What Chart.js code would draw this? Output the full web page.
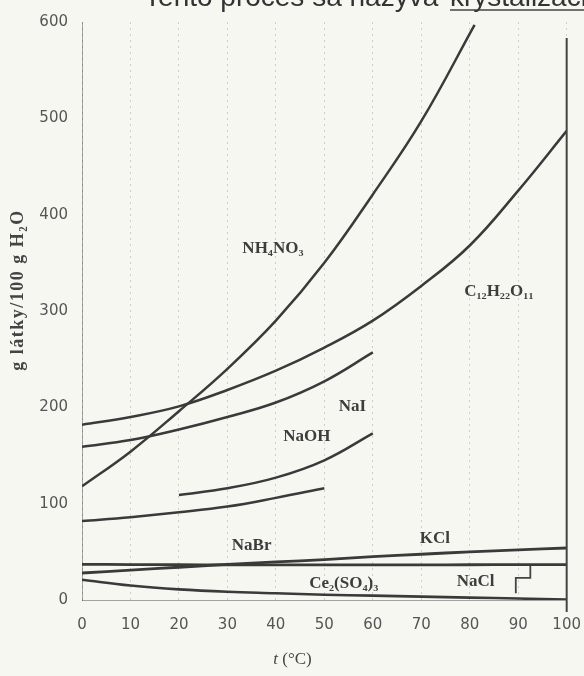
<!DOCTYPE html>
<html>
<head>
<meta charset="utf-8">
<script src="https://cdn.jsdelivr.net/npm/chart.js@4/dist/chart.umd.min.js"></script>
<style>
  html, body { margin: 0; padding: 0; background: #f7f7f2; }
  #wrap { width: 584px; height: 676px; }
</style>
</head>
<body>
<div id="wrap"><canvas id="rozpustnost" width="584" height="676"></canvas></div>
<script>
// teploty (°C) pre jednotlivé krivky
const tempsFull = [0, 10, 20, 30, 40, 50, 60, 70, 80, 90, 100];
const tempsNH4NO3 = [0, 10, 20, 30, 40, 50, 60, 70, 81];
const tempsNaI = [0, 10, 20, 30, 40, 50, 60];
const tempsNaOH = [20, 30, 40, 50, 60];
const tempsNaBr = [0, 10, 20, 30, 40, 50];

// rozpustnosť v g látky / 100 g H2O (odčítané z grafu)
const nh4no3 = [118, 154, 196, 240, 290, 350, 421, 497, 597];
const sacharoza = [182, 190, 201, 218, 238, 262, 290, 326, 368, 425, 487];
const nai = [159, 166, 177, 190, 205, 227, 257];
const naoh = [109, 116, 127, 145, 173];
const nabr = [82, 86, 91, 97, 106, 116];
const kcl = [28, 31, 34, 37, 39.5, 42, 45, 47.5, 50, 52, 54];
const nacl = [37, 36.8, 36.6, 36.5, 36.4, 36.4, 36.5, 36.5, 36.6, 36.7, 36.8];
const ce2so43 = [21, 15, 11, 8.5, 7, 5.5, 4.5, 3.5, 2.5, 1.5, 0.5];

// popisy kriviek: [text, teplota, hodnota]
const curveLabels = [
    ['NH₄NO₃', 39.4, 365],
    ['C₁₂H₂₂O₁₁', 86, 320],
    ['NaI', 55.8, 201],
    ['NaOH', 46.4, 170],
    ['NaBr', 35, 56],
    ['KCl', 72.8, 64],
    ['Ce₂(SO₄)₃', 54, 17],
    ['NaCl', 81.2, 19.5]
];
// malá spojnica pri NaCl
const naclLeaderT = [89.5, 89.5, 92.5, 92.5];
const naclLeaderV = [7, 23, 23, 35.5];

const lineColor = '#3a3a3a';

function pts(temps, vals) {
    return temps.map((t, i) => ({ x: t, y: vals[i] }));
}

function curve(label, temps, vals, width) {
    return {
        label: label,
        data: pts(temps, vals),
        borderColor: lineColor,
        borderWidth: width || 2.5,
        pointRadius: 0,
        fill: false,
        tension: 0.4
    };
}

const annotations = {
    id: 'annotations',
    afterDatasetsDraw(chart) {
        const { ctx, chartArea, scales: { x, y } } = chart;
        ctx.save();

        // pravý okraj grafu
        ctx.strokeStyle = '#444';
        ctx.lineWidth = 2;
        ctx.beginPath();
        ctx.moveTo(x.getPixelForValue(100), chartArea.top + 16);
        ctx.lineTo(x.getPixelForValue(100), chartArea.bottom + 12);
        ctx.stroke();

        // spojnica NaCl
        ctx.lineWidth = 1.8;
        ctx.beginPath();
        naclLeaderT.forEach((t, i) => {
            const px = x.getPixelForValue(t), py = y.getPixelForValue(naclLeaderV[i]);
            if (i === 0) ctx.moveTo(px, py); else ctx.lineTo(px, py);
        });
        ctx.stroke();

        // popisy kriviek
        ctx.fillStyle = '#3d3d3d';
        ctx.font = 'bold 17px "Liberation Serif", "DejaVu Serif", serif';
        ctx.textAlign = 'center';
        ctx.textBaseline = 'middle';
        curveLabels.forEach(([text, t, v]) => {
            ctx.fillText(text, x.getPixelForValue(t), y.getPixelForValue(v));
        });

        // názov osi y
        ctx.save();
        ctx.translate(18, 290);
        ctx.rotate(-Math.PI / 2);
        ctx.font = 'bold 18px "Liberation Serif", "DejaVu Serif", serif';
        ctx.letterSpacing = '1.5px';
        ctx.fillStyle = '#444';
        ctx.fillText('g látky/100 g H₂O', 0, 0);
        ctx.restore();

        // názov osi x
        ctx.font = 'italic 17px "Liberation Serif", serif';
        ctx.fillStyle = '#444';
        ctx.textAlign = 'right';
        ctx.fillText('t', 278, 660);
        ctx.font = '17px "Liberation Serif", serif';
        ctx.textAlign = 'left';
        ctx.fillText(' (°C)', 278, 660);

        // orezaný text zo skenu nad grafom
        ctx.font = '28px "Liberation Sans", Arial, sans-serif';
        ctx.fillStyle = '#333';
        ctx.textBaseline = 'alphabetic';
        ctx.textAlign = 'right';
        ctx.fillText('Tento proces sa nazýva ', 446, 6);
        ctx.textAlign = 'left';
        ctx.fillText('kryštalizácia', 450, 6);
        const w = ctx.measureText('kryštalizácia').width;
        ctx.lineWidth = 1.6;
        ctx.beginPath();
        ctx.moveTo(450, 10);
        ctx.lineTo(450 + w, 10);
        ctx.stroke();

        ctx.restore();
    }
};

const tickFont = { family: '"DejaVu Sans", Verdana, sans-serif', size: 15 };

new Chart(document.getElementById('rozpustnost'), {
    type: 'line',
    data: {
        datasets: [
            curve('NH₄NO₃', tempsNH4NO3, nh4no3),
            curve('C₁₂H₂₂O₁₁', tempsFull, sacharoza),
            curve('NaI', tempsNaI, nai),
            curve('NaOH', tempsNaOH, naoh),
            curve('NaBr', tempsNaBr, nabr),
            curve('KCl', tempsFull, kcl, 2.8),
            curve('NaCl', tempsFull, nacl, 2.8),
            curve('Ce₂(SO₄)₃', tempsFull, ce2so43, 2.6)
        ]
    },
    options: {
        responsive: false,
        animation: false,
        devicePixelRatio: 1,
        layout: { padding: { top: 22, right: 0, left: 0, bottom: 0 } },
        plugins: {
            legend: { display: false },
            tooltip: { enabled: false }
        },
        scales: {
            x: {
                type: 'linear',
                min: 0,
                max: 100,
                afterFit: s => { s.height = 76; },
                ticks: { stepSize: 10, font: tickFont, color: '#555', padding: 3 },
                grid: {
                    color: 'rgba(60,60,60,0.22)',
                    drawTicks: true,
                    tickLength: 13,
                    tickColor: 'rgba(0,0,0,0)'
                },
                border: { display: true, color: 'rgba(60,60,60,0.45)', dash: [2, 4] }
            },
            y: {
                type: 'linear',
                min: 0,
                max: 600,
                afterFit: s => { s.width = 82; },
                ticks: { stepSize: 100, font: tickFont, color: '#555', padding: 6 },
                grid: { display: false },
                border: { display: true, color: 'rgba(60,60,60,0.45)', dash: [2, 4] }
            }
        }
    },
    plugins: [annotations]
});
</script>
</body>
</html>
